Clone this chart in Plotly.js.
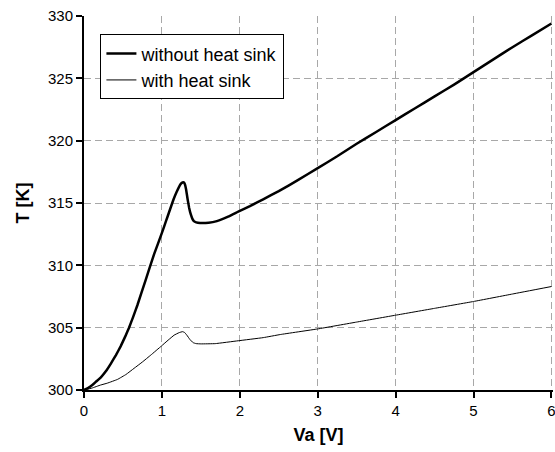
<!DOCTYPE html>
<html>
<head>
<meta charset="utf-8">
<script src="https://cdn.plot.ly/plotly-3.0.1.min.js"></script>
<style>html,body{margin:0;padding:0;background:#fff;}#chart{width:555px;height:452px;}</style>
</head>
<body>
<div id="chart"></div>
<script>
const seriesNames = ["without heat sink", "with heat sink"];

const vaWithout = [0, 0.05, 0.107, 0.16, 0.214, 0.28, 0.343, 0.41, 0.47, 0.53, 0.578, 0.63, 0.685, 0.79, 0.9, 1.0, 1.05, 1.105, 1.15, 1.19, 1.22, 1.245, 1.265, 1.28, 1.295, 1.31, 1.33, 1.35, 1.37, 1.39, 1.41, 1.44, 1.49, 1.6, 1.706, 1.85, 1.98, 2.13, 2.3, 2.5, 2.75, 3.0, 3.25, 3.5, 3.75, 4.0, 4.25, 4.5, 4.75, 5.0, 5.25, 5.5, 5.75, 6.0];
const tWithout = [300, 300.15, 300.4, 300.7, 301.0, 301.5, 302.1, 302.8, 303.5, 304.3, 305.0, 305.85, 306.8, 308.8, 310.9, 312.6, 313.5, 314.5, 315.3, 315.9, 316.3, 316.55, 316.65, 316.65, 316.5, 316.1, 315.3, 314.6, 314.1, 313.75, 313.55, 313.45, 313.4, 313.42, 313.55, 313.9, 314.3, 314.75, 315.3, 315.95, 316.85, 317.8, 318.75, 319.75, 320.7, 321.65, 322.6, 323.55, 324.5, 325.5, 326.5, 327.5, 328.45, 329.4];

const vaWith = [0, 0.1, 0.214, 0.3, 0.43, 0.54, 0.643, 0.75, 0.857, 0.994, 1.08, 1.157, 1.22, 1.265, 1.29, 1.32, 1.36, 1.4, 1.44, 1.5, 1.684, 1.98, 2.3, 2.52, 3.0, 3.5, 4.0, 4.5, 5.0, 5.5, 6.0];
const tWith = [300, 300.15, 300.4, 300.55, 300.85, 301.25, 301.74, 302.25, 302.8, 303.53, 304.0, 304.4, 304.6, 304.68, 304.62, 304.4, 304.05, 303.8, 303.72, 303.7, 303.72, 303.95, 304.2, 304.45, 304.9, 305.45, 306.0, 306.55, 307.1, 307.7, 308.3];

const xTicks = [0, 1, 2, 3, 4, 5, 6];
const yTicks = [300, 305, 310, 315, 320, 325, 330];

const font = "Liberation Sans, Arial, sans-serif";

const traces = [
  {x: vaWithout, y: tWithout, name: seriesNames[0], mode: "lines", line: {color: "#000", width: 2.5, shape: "spline", smoothing: 0.3}, legendgroup: "a"},
  {x: vaWith, y: tWith, name: seriesNames[1], mode: "lines", line: {color: "#000", width: 1, shape: "spline", smoothing: 0.3}, legendgroup: "b"}
];

const layout = {
  width: 555, height: 452,
  margin: {l: 84, r: 2.44, t: 16, b: 62},
  paper_bgcolor: "#fff", plot_bgcolor: "#fff",
  font: {family: font, size: 15, color: "#000"},
  showlegend: true,
  legend: {
    x: 0.035, y: 0.951, xanchor: "left", yanchor: "top",
    bgcolor: "#fff", bordercolor: "#000", borderwidth: 1,
    font: {family: font, size: 18, color: "#000"},
    tracegroupgap: 0, itemwidth: 30
  },
  xaxis: {
    range: [0, 6.02], tickvals: xTicks, ticktext: xTicks.map(String),
    ticklabeloverflow: "allow",
    showline: true, linecolor: "#000", linewidth: 2,
    ticks: "outside", ticklen: 6, tickwidth: 2, tickcolor: "#000",
    showgrid: true, gridcolor: "#a8a8a8", gridwidth: 1, griddash: "7px,4px",
    zeroline: false, fixedrange: true,
    title: {text: "<b>Va [V]</b>", font: {family: font, size: 18, color: "#000"}, standoff: 10}
  },
  yaxis: {
    range: [300, 330.002], tickvals: yTicks, ticktext: yTicks.map(String),
    showline: true, linecolor: "#000", linewidth: 2,
    ticks: "outside", ticklen: 6, tickwidth: 2, tickcolor: "#000",
    showgrid: true, gridcolor: "#a8a8a8", gridwidth: 1, griddash: "7px,4px",
    zeroline: false, fixedrange: true,
    title: {text: "<b>T [K]</b>", font: {family: font, size: 18, color: "#000"}, standoff: 14}
  }
};

Plotly.newPlot("chart", traces, layout, {displayModeBar: false, staticPlot: true});
</script>
</body>
</html>
